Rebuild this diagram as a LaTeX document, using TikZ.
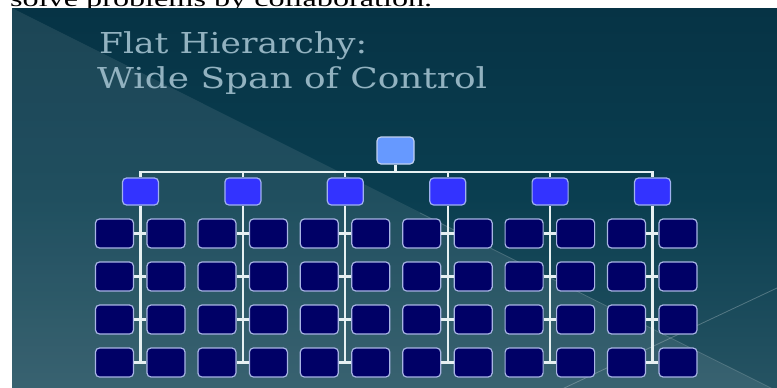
\documentclass[tikz,border=0pt]{standalone}
\usepackage{fontspec}
\setmainfont{Liberation Serif}
\newfontfamily\titlefont{DejaVu Serif}
\definecolor{bgTop}{HTML}{02283A}
\definecolor{bgMid}{HTML}{0A3E50}
\definecolor{bgLow}{HTML}{285564}
\definecolor{bgBot}{HTML}{5A7680}
\definecolor{rootC}{HTML}{6699FF}
\definecolor{rootEdge}{HTML}{C0D0F0}
\definecolor{midC}{HTML}{3333FF}
\definecolor{midEdge}{HTML}{A0B0F0}
\definecolor{leafC}{HTML}{000066}
\definecolor{leafEdge}{HTML}{A8B4E4}
\definecolor{linkC}{HTML}{E6F0F2}
\definecolor{titleC}{HTML}{92B2C0}
\pgfdeclareverticalshading{slidebg}{100bp}{color(0bp)=(bgBot); color(23bp)=(bgLow); color(50bp)=(bgMid); color(100bp)=(bgTop)}
\begin{document}
\begin{tikzpicture}[x=1pt,y=-1pt,
  box/.style={rounded corners=4pt, line width=1.2pt, inner sep=0pt},
  rootbox/.style={box, fill=rootC, draw=rootEdge, minimum width=37pt, minimum height=27pt},
  midbox/.style={box, fill=midC, draw=midEdge, minimum width=36pt, minimum height=27pt},
  leafbox/.style={box, fill=leafC, draw=leafEdge, minimum width=38pt, minimum height=29pt},
  link/.style={draw=linkC, line width=2.2pt},
  titletext/.style={text=titleC, anchor=base west, inner sep=0pt, font=\titlefont\fontsize{28.8}{34}\selectfont}]
\useasboundingbox (0,0) rectangle (777,388);
\clip (0,0) rectangle (777,388);
% text of the page above the slide
\node[anchor=base west, inner sep=0pt, font=\fontsize{22.4}{26}\selectfont] (toptext) at (10,6) {\resizebox{422pt}{\height}{solve problems by collaboration.}};
% slide background
\shade[shading=slidebg] (12,8) rectangle (777,388);
\fill[white, opacity=0.09] (12,8) -- (777,391) -- (12,391) -- cycle;
\draw[white, opacity=0.25, line width=0.8pt] (560,390) -- (777,288);
\draw[white, opacity=0.15, line width=0.8pt] (420,213) -- (777,391);
% title
\node[titletext] (t1) at (99,53) {\resizebox{268pt}{\height}{Flat Hierarchy:}};
\node[titletext] (t2) at (97,88) {\resizebox{390pt}{\height}{Wide Span of Control}};
% chart
\node[rootbox] (root) at (395.5,150.5) {};
\coordinate (bar) at (0,172);
\foreach \i in {1,...,6} {
  \pgfmathsetmacro\cx{140.5+102.4*(\i-1)}
  \node[midbox] (m\i) at (\cx,191.5) {};
  \foreach \r/\cy in {1/233.5,2/276.5,3/319.5,4/362.5} {
    \node[leafbox] (L\i-\r-a) at (\cx-26,\cy) {};
    \node[leafbox] (L\i-\r-b) at (\cx+25.5,\cy) {};
  }
}
\draw[link] (root.south) -- (root.south |- bar);
\foreach \i in {1,...,6} {
  \draw[link] (root.south |- bar) -| (m\i.north);
  \draw[link] (m\i.south) -- (m\i.south |- L\i-4-a.east);
  \foreach \r in {1,...,4} {
    \draw[link] (L\i-\r-a.east) -- (L\i-\r-b.west);
  }
}
\end{tikzpicture}
\end{document}
